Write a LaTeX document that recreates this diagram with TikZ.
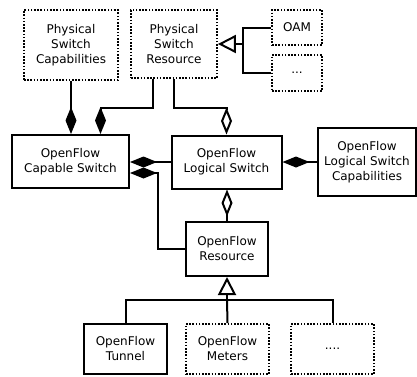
\documentclass[tikz,border=0pt]{standalone}
\usepackage{fontspec}
\setmainfont{DejaVu Sans}
\usetikzlibrary{shapes,arrows,positioning,calc,arrows.meta}

\begin{document}
\begin{tikzpicture}[x=1pt, y=-1pt, line width=2pt,
    font=\fontsize{12}{15}\selectfont,
    solidbox/.style={draw, align=center, inner sep=0pt},
    dotbox/.style={solidbox, line width=1.8pt, dash pattern=on 1.6pt off 1.6pt},
    comp/.style={-{Diamond[length=27pt,width=11pt]}},
    aggr/.style={-{Diamond[open,length=27pt,width=11pt]}},
    inherit/.style={-{Triangle[open,length=18pt,width=18pt]}}]
    \useasboundingbox (0,0) rectangle (417,376);

    % physical side
    \node[dotbox, minimum width=94pt, minimum height=70pt] (psc) at (71,45) {Physical\\Switch\\Capabilities};
    \node[dotbox, minimum width=86pt, minimum height=68pt] (psr) at (174,44) {Physical\\Switch\\Resource};
    \node[dotbox, minimum width=50pt, minimum height=35pt] (oam) at (297,27.5) {OAM};
    \node[dotbox, minimum width=50pt, minimum height=36pt] (psrmore) at (297,73) {...};

    % switches
    \node[solidbox, minimum width=117pt, minimum height=53pt] (ofcs) at (70.5,161.5) {OpenFlow\\Capable Switch};
    \node[solidbox, minimum width=110pt, minimum height=53pt] (ofls) at (226.5,162) {OpenFlow\\Logical Switch};
    \node[solidbox, minimum width=98pt, minimum height=68pt] (oflsc) at (367,162) {OpenFlow\\Logical Switch\\Capabilities};

    % resources
    \node[solidbox, minimum width=82pt, minimum height=54pt] (ofr) at (227,249) {OpenFlow\\Resource};
    \node[solidbox, minimum width=83pt, minimum height=50pt] (oft) at (125.5,349) {OpenFlow\\Tunnel};
    \node[dotbox, minimum width=83pt, minimum height=50pt] (ofm) at (227.5,349) {OpenFlow\\Meters};
    \node[dotbox, minimum width=83pt, minimum height=50pt] (ofmore) at (332.5,349) {....};

    \coordinate (psrjoin) at (243,44);
    \coordinate (bus) at (227,300);

    % generalisations
    \draw (oam.west) -| (psrjoin);
    \draw (psrmore.west) -| (psrjoin);
    \draw[inherit] (psrjoin) -- (psr.east);
    \draw[inherit] (bus) -- (ofr.south);
    \draw (oft.north) |- (bus) -| (ofmore.north);
    \draw (ofm.north) -- (bus);

    % compositions and aggregations
    \draw[comp] (psc.south) -- (psc.south |- ofcs.north);
    \draw[comp] ([xshift=-21pt]psr.south) -- ++(0,29) -| ([xshift=30pt]ofcs.north);
    \draw[aggr] (psr.south) -- ++(0,29) -| (ofls.north);
    \draw[comp] (ofls.west) -- (ofls.west -| ofcs.east);
    \draw[comp] (oflsc.west) -- (ofls.east);
    \draw[comp] (ofr.west) -| ($(ofcs.east)+(28,11.5)$) -- ($(ofcs.east)+(0,11.5)$);
    \draw[aggr] (ofr.north) -- (ofr.north |- ofls.south);
\end{tikzpicture}
\end{document}
